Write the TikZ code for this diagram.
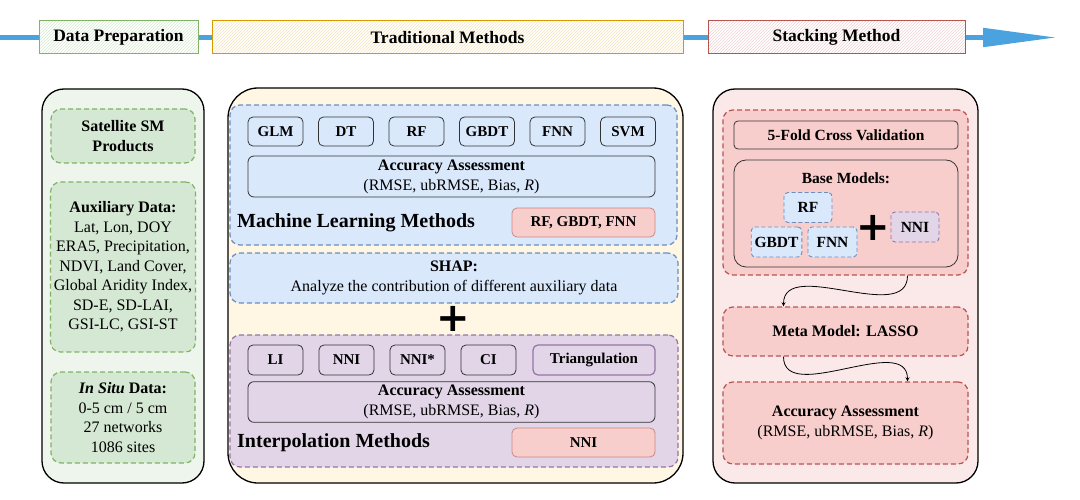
\documentclass[tikz,border=0pt]{standalone}
\usepackage{fontspec}
\setmainfont{Liberation Serif}
\newfontfamily\plusfont{DejaVu Sans}
\usepackage{xcolor}
\usepackage{tikz}
\usetikzlibrary{shapes.geometric, arrows, arrows.meta, patterns}

\definecolor{flowblue}{HTML}{4AA3DF}
\definecolor{greenfill}{HTML}{D5E8D4}
\definecolor{greenline}{HTML}{82B366}
\definecolor{greenpanel}{HTML}{EEF5EC}
\definecolor{creampanel}{HTML}{FFF7E3}
\definecolor{bluefill}{HTML}{DAE8FC}
\definecolor{blueline}{HTML}{6C8EBF}
\definecolor{purplefill}{HTML}{E1D5E7}
\definecolor{purpleline}{HTML}{9673A6}
\definecolor{redfill}{HTML}{F8CECC}
\definecolor{redline}{HTML}{B85450}
\definecolor{redpanel}{HTML}{FBE9E9}
\definecolor{orangeline}{HTML}{D79B00}

\tikzstyle{stage} = [rectangle, 
line width=1pt, 
minimum height=33pt, 
pattern=north east lines, 
preaction={fill=white}, 
font=\fontsize{17.5}{20}\selectfont\bfseries]
\tikzstyle{flowline} = [line width=5pt, draw=flowblue]
\tikzstyle{panel} = [rectangle, 
draw=black, 
line width=1.3pt, 
inner sep=0pt]
\tikzstyle{group} = [rectangle, 
rounded corners=10pt, 
line width=1.2pt, 
dash pattern=on 5pt off 3pt, 
align=center, 
font=\fontsize{16}{19.5}\selectfont]
\tikzstyle{model} = [rectangle, 
rounded corners=5pt, 
draw=black!80, 
line width=0.8pt, 
minimum width=55pt, 
minimum height=29pt, 
font=\fontsize{15}{18}\selectfont\bfseries]
\tikzstyle{assess} = [rectangle, 
rounded corners=6pt, 
draw=black!80, 
line width=0.8pt, 
minimum width=407pt, 
align=center, 
font=\fontsize{16}{20}\selectfont]
\tikzstyle{best} = [rectangle, 
rounded corners=5pt, 
draw=redline!70, 
fill=redfill, 
line width=0.8pt, 
minimum width=143pt, 
minimum height=29pt, 
font=\fontsize{15}{18}\selectfont\bfseries]
\tikzstyle{title} = [inner sep=0pt, anchor=west, font=\fontsize{20}{24}\selectfont\bfseries]
\tikzstyle{basebox} = [rectangle, 
rounded corners=4pt, 
line width=0.9pt, 
dash pattern=on 4pt off 2.5pt, 
minimum width=48pt, 
minimum height=30pt, 
font=\fontsize{15.5}{18}\selectfont\bfseries]
\tikzstyle{plus} = [inner sep=0pt, font=\plusfont\fontsize{40}{40}\selectfont\bfseries]
\tikzstyle{arrow} = [thick,->,>=stealth]

\begin{document}
\begin{tikzpicture}[x=1pt, y=-1pt, node distance=70.5pt]
\useasboundingbox (0,0) rectangle (1080,500);

% Stages
\coordinate (linestart) at (0,37.5);
\coordinate (lineend) at (1057,37.5);
\node (dataprep) [stage, draw=greenline, pattern color=greenline!30, minimum width=159pt] at (118.5,37.5) {Data Preparation};
\node (trad) [stage, draw=orangeline, pattern color=orangeline!25, minimum width=471pt] at (447.5,37.5) {Traditional Methods};
\node (stack) [stage, draw=redline, pattern color=redline!25, minimum width=257pt] at (836.5,37.5) {Stacking Method};
\draw [flowline] (linestart) -- (dataprep);
\draw [flowline] (dataprep) -- (trad);
\draw [flowline] (trad) -- (stack);
\draw [flowline, -{Triangle[length=74pt,width=18pt]}] (stack) -- (lineend);

% Data preparation
\node (prep) [panel, fill=greenpanel, rounded corners=22pt, minimum width=162pt, minimum height=394pt] at (123,286) {};
\node (sat) [group, draw=greenline, fill=greenfill, minimum width=144pt, minimum height=54pt] at (123,136) {\textbf{Satellite SM}\\\textbf{Products}};
\node (aux) [group, draw=greenline, fill=greenfill, minimum width=144pt, minimum height=170pt] at (123,267) {\textbf{Auxiliary Data:}\\Lat, Lon, DOY\\ERA5, Precipitation,\\NDVI, Land Cover,\\Global Aridity Index,\\SD-E, SD-LAI,\\GSI-LC, GSI-ST};
\node (insitu) [group, draw=greenline, fill=greenfill, minimum width=144pt, minimum height=91pt] at (123,417.5) {\textbf{\textit{In Situ} Data:}\\0-5 cm / 5 cm\\27 networks\\1086 sites};

% Traditional methods
\node (tradpanel) [panel, fill=creampanel, rounded corners=30pt, minimum width=455pt, minimum height=395pt] at (455.5,285.5) {};
\node (ml) [group, draw=blueline, fill=bluefill, minimum width=447pt, minimum height=140pt] at (453.5,175) {};
\node (glm) [model] at (275.5,131.5) {GLM};
\node (dt) [model, right of=glm] {DT};
\node (rf) [model, right of=dt] {RF};
\node (gbdt) [model, right of=rf] {GBDT};
\node (fnn) [model, right of=gbdt] {FNN};
\node (svm) [model, right of=fnn] {SVM};
\node (acc1) [assess, minimum height=41pt] at (451.5,176.5) {\textbf{Accuracy Assessment}\\(RMSE, ubRMSE, Bias, \textit{R})};
\node (mltitle) [title] at (237,223) {Machine Learning Methods};
\node (mlbest) [best] at (583.5,222.5) {RF, GBDT, FNN};

\node (shap) [group, draw=blueline, fill=bluefill, minimum width=448pt, minimum height=50pt] at (454,278) {\textbf{SHAP:}\\Analyze the contribution of different auxiliary data};
\node (plus1) [plus] at (453,319) {+};

\node (interp) [group, draw=purpleline, fill=purplefill, minimum width=448pt, minimum height=132pt] at (454,401) {};
\node (li) [model, minimum height=30pt] at (275.5,360) {LI};
\node (nni) [model, minimum height=30pt, right of=li, node distance=71pt] {NNI};
\node (nnistar) [model, minimum height=30pt, right of=nni, node distance=71pt] {NNI*};
\node (ci) [model, minimum height=30pt, right of=nnistar, node distance=71pt] {CI};
\node (tri) [model, draw=purpleline, line width=1.2pt, minimum width=122pt, minimum height=30pt] at (594,360) {Triangulation};
\node (acc2) [assess, minimum height=40pt] at (451.5,402) {\textbf{Accuracy Assessment}\\(RMSE, ubRMSE, Bias, \textit{R})};
\node (iptitle) [title] at (237,443) {Interpolation Methods};
\node (ipbest) [best] at (583.5,442.5) {NNI};

% Stacking method
\node (stackpanel) [panel, fill=redpanel, rounded corners=22pt, minimum width=265pt, minimum height=394pt] at (845.5,286) {};
\node (ensemble) [group, draw=redline, fill=redfill, minimum width=245pt, minimum height=165pt] at (845.5,192.5) {};
\node (cv) [assess, rounded corners=4pt, minimum width=224pt, minimum height=28pt, font=\fontsize{15.5}{18}\selectfont\bfseries] at (846,135) {5-Fold Cross Validation};
\node (base) [assess, rounded corners=12pt, minimum width=224pt, minimum height=107pt] at (846,213.5) {};
\node (basetitle) [font=\fontsize{15.5}{18}\selectfont\bfseries] at (846,178) {Base Models:};
\node (baserf) [basebox, draw=blueline, fill=bluefill] at (808,207.5) {RF};
\node (basegbdt) [basebox, draw=blueline, fill=bluefill, minimum width=49pt] at (776.5,242) {GBDT};
\node (basefnn) [basebox, draw=blueline, fill=bluefill, minimum width=49pt] at (832.5,242) {FNN};
\node (plus2) [plus] at (873,228) {+};
\node (basenni) [basebox, draw=purpleline, fill=purplefill] at (915,227) {NNI};
\node (meta) [group, draw=redline, fill=redfill, minimum width=245pt, minimum height=49pt, font=\fontsize{16}{19}\selectfont\bfseries] at (845.5,331.5) {Meta Model: LASSO};
\node (acc3) [group, draw=redline, fill=redfill, minimum width=245pt, minimum height=82pt] at (845.5,423) {\textbf{Accuracy Assessment}\\(RMSE, ubRMSE, Bias, \textit{R})};

% Arrows
\draw [arrow] ([xshift=62pt]ensemble.south) to[out=-90, in=90] ([xshift=-62pt]meta.north);
\draw [arrow] ([xshift=-62pt]meta.south) to[out=-90, in=90] ([xshift=62pt]acc3.north);

\end{tikzpicture}
\end{document}
